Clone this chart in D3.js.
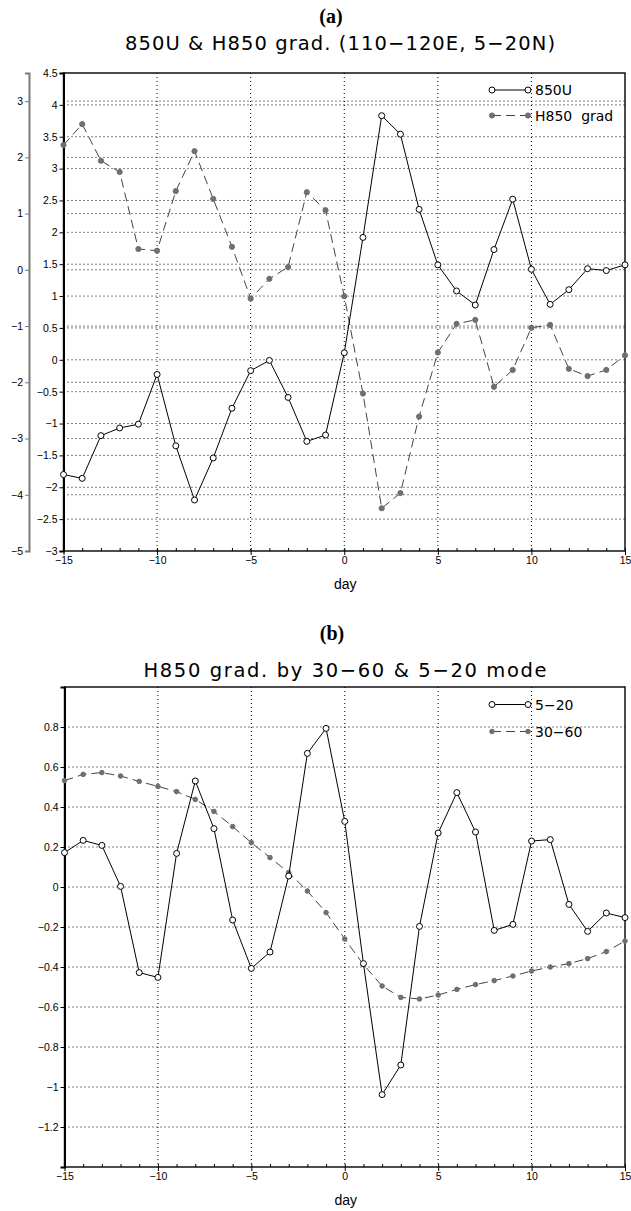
<!DOCTYPE html>
<html>
<head>
<meta charset="utf-8">
<script src="https://cdn.jsdelivr.net/npm/d3@7"></script>
<style>
  body { margin: 0; background: #fff; }
  svg { display: block; }
  .tick-label { font-family: "Liberation Sans", Arial, sans-serif; font-size: 10.5px; fill: #000; }
  .hershey { font-family: "DejaVu Sans", sans-serif; fill: #000; }
</style>
</head>
<body>
<svg id="chart" width="631" height="1211"></svg>
<script>
// days -15 .. 15
const days = [-15, -14, -13, -12, -11, -10, -9, -8, -7, -6, -5, -4, -3, -2, -1, 0,
  1, 2, 3, 4, 5, 6, 7, 8, 9, 10, 11, 12, 13, 14, 15];

// panel (a)
const u850 = [-1.80, -1.86, -1.19, -1.07, -1.01, -0.23, -1.35, -2.20, -1.54, -0.76, -0.17, -0.01,
  -0.59, -1.28, -1.18, 0.11, 1.92, 3.83, 3.54, 2.36, 1.49, 1.08, 0.86, 1.73, 2.52, 1.42,
  0.87, 1.10, 1.43, 1.40, 1.49];
const h850Grad = [2.22, 2.59, 1.94, 1.74, 0.37, 0.34, 1.40, 2.11, 1.26, 0.41, -0.51, -0.16,
  0.05, 1.38, 1.06, -0.47, -2.20, -4.24, -3.97, -2.61, -1.47, -0.96, -0.89, -2.08, -1.78,
  -1.03, -0.98, -1.76, -1.89, -1.78, -1.52];
const uTicks = [-3, -2.5, -2, -1.5, -1, -0.5, 0, 0.5, 1, 1.5, 2, 2.5, 3, 3.5, 4, 4.5];
const gradTicks = [-5, -4, -3, -2, -1, 0, 1, 2, 3];

// panel (b)
const mode520 = [0.172, 0.233, 0.208, 0.003, -0.428, -0.452, 0.168, 0.53, 0.292, -0.165, -0.407,
  -0.325, 0.055, 0.668, 0.793, 0.328, -0.383, -1.038, -0.89, -0.197, 0.27, 0.472, 0.275,
  -0.217, -0.187, 0.23, 0.237, -0.087, -0.222, -0.13, -0.153];
const mode3060 = [0.532, 0.563, 0.572, 0.555, 0.528, 0.503, 0.477, 0.438, 0.378, 0.302, 0.222,
  0.147, 0.072, -0.02, -0.128, -0.26, -0.388, -0.495, -0.552, -0.56, -0.54, -0.512, -0.488,
  -0.468, -0.445, -0.42, -0.40, -0.383, -0.358, -0.323, -0.27];
const bTicks = [-1.2, -1, -0.8, -0.6, -0.4, -0.2, 0, 0.2, 0.4, 0.6, 0.8];

const xTicks = [-15, -10, -5, 0, 5, 10, 15];
const xGrid = [-10, -5, 0, 5, 10];

const svg = d3.select("#chart");
const fmt = (d) => String(d).replace("-", "\u2212");
const GRAY = "#6f6f6f";

function drawFrame(g, x, y, top, bottom, left, right) {
  // x grid
  g.append("g").selectAll("line").data(xGrid).enter().append("line")
    .attr("x1", (d) => x(d)).attr("x2", (d) => x(d))
    .attr("y1", top).attr("y2", bottom)
    .attr("stroke", "#000").attr("stroke-width", 1).attr("stroke-dasharray", "1,3");

  // x axis: labelled ticks outward, day ticks inward
  const xa = g.append("g").attr("transform", `translate(0,${bottom})`)
    .call(d3.axisBottom(x).tickValues(xTicks).tickSize(4).tickPadding(2).tickFormat(fmt));
  xa.select(".domain").remove();
  xa.selectAll("text").attr("class", "tick-label").attr("font-size", null).attr("font-family", null);
  g.append("g").attr("transform", `translate(0,${bottom})`)
    .call(d3.axisBottom(x).tickValues(days).tickSize(-3).tickFormat(""))
    .select(".domain").remove();

  g.append("rect").attr("x", left).attr("y", top)
    .attr("width", right - left).attr("height", bottom - top)
    .attr("fill", "none").attr("stroke", "#000").attr("stroke-width", 1.4);

  g.append("text").attr("class", "tick-label").attr("x", (left + right) / 2 + 1)
    .attr("y", bottom + 38).attr("text-anchor", "middle").style("font-size", "14px").text("day");
}

function drawYAxis(g, y, ticks, xPos, color, width) {
  const ax = g.append("g").attr("transform", `translate(${xPos},0)`)
    .call(d3.axisLeft(y).tickValues(ticks).tickSize(4).tickPadding(2).tickFormat(fmt));
  ax.select(".domain").attr("stroke", color).attr("stroke-width", width);
  ax.selectAll(".tick line").attr("stroke", color);
  ax.selectAll("text").attr("class", "tick-label").attr("font-size", null).attr("font-family", null);
}

function hGrid(g, y, ticks, left, right) {
  g.append("g").selectAll("line").data(ticks).enter().append("line")
    .attr("x1", left).attr("x2", right)
    .attr("y1", (d) => y(d)).attr("y2", (d) => y(d))
    .attr("stroke", "#000").attr("stroke-width", 1).attr("stroke-dasharray", "1,3");
}

function drawSeries(g, x, y, values, opts) {
  const line = d3.line().x((d, i) => x(days[i])).y((d) => y(d));
  g.append("path").datum(values).attr("d", line)
    .attr("fill", "none").attr("stroke", opts.lineColor).attr("stroke-width", 1)
    .attr("stroke-dasharray", opts.dash || null);
  g.append("g").selectAll("circle").data(values).enter().append("circle")
    .attr("cx", (d, i) => x(days[i])).attr("cy", (d) => y(d))
    .attr("r", opts.r)
    .attr("fill", opts.fill).attr("stroke", opts.stroke).attr("stroke-width", 1);
}

function legendRow(g, yPos, label, opts) {
  g.append("line").attr("x1", 492).attr("x2", 528).attr("y1", yPos).attr("y2", yPos)
    .attr("stroke", opts.lineColor).attr("stroke-width", 1).attr("stroke-dasharray", opts.dash || null);
  [492, 528].forEach((cx) => {
    g.append("circle").attr("cx", cx).attr("cy", yPos).attr("r", opts.r)
      .attr("fill", opts.fill).attr("stroke", opts.stroke);
  });
  g.append("text").attr("class", "hershey").attr("x", 535).attr("y", yPos + 5)
    .attr("font-size", "14px").attr("xml:space", "preserve").text(label);
}

const openStyle = { lineColor: "#000", r: 3, fill: "#fff", stroke: "#000" };

/* ========== PANEL (a) ========== */
function renderPanelA() {
  const top = 73, bottom = 551, left = 63.5, right = 625;
  const g = svg.append("g");
  const x = d3.scaleLinear().domain([-15, 15]).range([left, right]);
  const yU = d3.scaleLinear().domain([-3, 4.5]).range([bottom, top]);
  const yG = d3.scaleLinear().domain([-5, 3.5]).range([bottom, top]);

  svg.append("text").attr("x", 331).attr("y", 23).attr("text-anchor", "middle")
    .attr("font-family", "Liberation Serif, serif").attr("font-weight", "bold")
    .attr("font-size", "20px").text("(a)");
  svg.append("text").attr("class", "hershey").attr("x", 340).attr("y", 50)
    .attr("text-anchor", "middle").attr("font-size", "19.5px")
    .attr("textLength", 430).attr("lengthAdjust", "spacing")
    .text("850U & H850 grad. (110\u2212120E, 5\u221220N)");

  hGrid(g, yU, uTicks.filter((d) => d > -3 && d < 4.5), left, right);
  hGrid(g, yG, gradTicks.filter((d) => d > -5), left, right);
  drawFrame(g, x, yU, top, bottom, left, right);
  drawYAxis(g, yU, uTicks, left, "#000", 2);
  drawYAxis(g, yG, gradTicks, 29, "#7a7a7a", 2);

  const dashStyle = { lineColor: "#444", dash: "9,5", r: 2.6, fill: GRAY, stroke: GRAY };
  drawSeries(g, x, yG, h850Grad, dashStyle);
  drawSeries(g, x, yU, u850, openStyle);

  legendRow(g, 90, "850U", openStyle);
  legendRow(g, 115.5, "H850  grad", dashStyle);
}

/* ========== PANEL (b) ========== */
function renderPanelB() {
  const top = 687, bottom = 1167, left = 64.5, right = 625;
  const g = svg.append("g");
  const x = d3.scaleLinear().domain([-15, 15]).range([left, right]);
  const y = d3.scaleLinear().domain([-1.4, 1.0]).range([bottom, top]);

  svg.append("text").attr("x", 332).attr("y", 640).attr("text-anchor", "middle")
    .attr("font-family", "Liberation Serif, serif").attr("font-weight", "bold")
    .attr("font-size", "20px").text("(b)");
  svg.append("text").attr("class", "hershey").attr("x", 345).attr("y", 677)
    .attr("text-anchor", "middle").attr("font-size", "19.5px")
    .attr("textLength", 403).attr("lengthAdjust", "spacing")
    .text("H850 grad. by 30\u221260 & 5\u221220 mode");

  hGrid(g, y, bTicks, left, right);
  drawFrame(g, x, y, top, bottom, left, right);
  drawYAxis(g, y, bTicks, left, "#000", 2);

  const dashStyle = { lineColor: "#444", dash: "9,5", r: 2.3, fill: GRAY, stroke: GRAY };
  drawSeries(g, x, y, mode3060, dashStyle);
  drawSeries(g, x, y, mode520, openStyle);

  legendRow(g, 704.5, "5\u221220", openStyle);
  legendRow(g, 731.5, "30\u221260", dashStyle);
}

renderPanelA();
renderPanelB();
</script>
</body>
</html>
